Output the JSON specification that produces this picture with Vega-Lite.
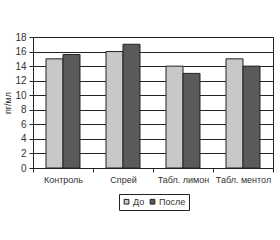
{
  "$schema": "https://vega.github.io/schema/vega-lite/v6.json",
  "width": 240,
  "height": 131,
  "autosize": {"type": "none"},
  "padding": {"left": 33, "top": 37, "right": 7, "bottom": 72},
  "background": "white",
  "data": {"values": [
    {"cat": "Контроль", "g": "До", "v": 15},
    {"cat": "Контроль", "g": "После", "v": 15.6},
    {"cat": "Спрей", "g": "До", "v": 16},
    {"cat": "Спрей", "g": "После", "v": 17},
    {"cat": "Табл. лимон", "g": "До", "v": 14},
    {"cat": "Табл. лимон", "g": "После", "v": 13},
    {"cat": "Табл. ментол", "g": "До", "v": 15},
    {"cat": "Табл. ментол", "g": "После", "v": 14}
  ]},
  "mark": {"type": "bar", "stroke": "#222", "strokeWidth": 1},
  "encoding": {
    "x": {"field": "cat", "type": "nominal", "sort": null,
      "scale": {"paddingInner": 0, "paddingOuter": 0},
      "axis": {"title": null, "labelAngle": 0, "tickBand": "extent", "domainColor": "#222", "tickColor": "#222", "tickSize": 4, "labelFont": "Liberation Sans", "labelFontSize": 9, "labelColor": "#333", "labelPadding": 3, "grid": false}},
    "xOffset": {"field": "g", "type": "nominal", "sort": ["До", "После"],
      "scale": {"paddingInner": 0, "paddingOuter": 0.765}},
    "y": {"field": "v", "type": "quantitative",
      "scale": {"domain": [0, 18], "nice": false},
      "axis": {"title": "пг/мл", "values": [0,2,4,6,8,10,12,14,16,18], "grid": true, "gridColor": "#222", "gridOpacity": 1, "gridWidth": 1, "domainColor": "#222", "tickColor": "#222", "tickSize": 4, "labelFont": "Liberation Sans", "labelFontSize": 10, "labelColor": "#333", "labelPadding": 3, "titleFont": "Liberation Sans", "titleFontSize": 9, "titleFontWeight": "normal", "titleColor": "#333", "titlePadding": 2}},
    "color": {"field": "g", "type": "nominal", "sort": ["До", "После"],
      "scale": {"domain": ["До", "После"], "range": ["#c8c8c8", "#5a5a5a"]},
      "legend": {"title": null, "orient": "none", "direction": "horizontal", "legendX": 86, "legendY": 157,
        "symbolType": "square", "symbolSize": 22, "symbolStrokeColor": "#222", "symbolStrokeWidth": 1,
        "labelFont": "Liberation Sans", "labelFontSize": 9, "labelColor": "#333", "labelOffset": 2,
        "columnPadding": 3, "strokeColor": "#222", "padding": 3, "fillColor": "white"}}
  },
  "config": {"view": {"stroke": "#222", "strokeWidth": 1}}
}
